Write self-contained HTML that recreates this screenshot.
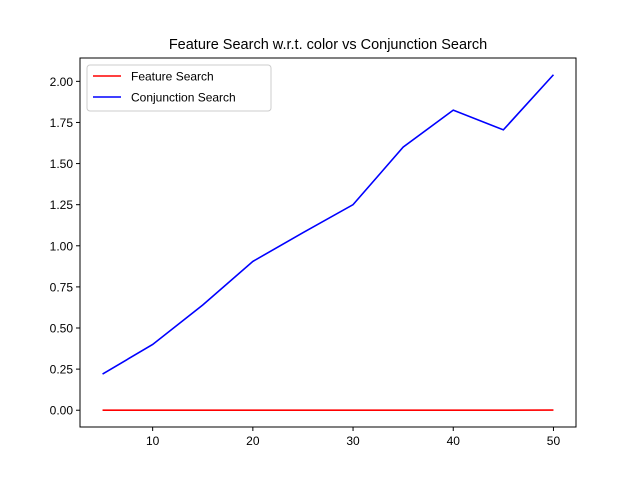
<!DOCTYPE html>
<html><head><meta charset="utf-8"><style>body{margin:0;background:#fff}svg{display:block;font-family:"Liberation Sans","DejaVu Sans",sans-serif}</style></head>
<body>
<svg id="chart" width="640" height="480" xmlns="http://www.w3.org/2000/svg">
<rect width="640" height="480" fill="#fff"/>
<text x="328" y="49" font-size="14.5" text-anchor="middle">Feature Search w.r.t. color vs Conjunction Search</text>
<g id="plot"></g>
</svg>
<script>
const xs=[5,10,15,20,25,30,35,40,45,50];
const feature=[0,0,0,0,0,0,0,0,0,0.001];
const conjunction=[0.22,0.40,0.64,0.905,1.08,1.25,1.60,1.825,1.705,2.04];
const xTicks=[10,20,30,40,50];
const yTicks=[0,0.25,0.5,0.75,1.0,1.25,1.5,1.75,2.0];
const L=80,R=576,T=58,B=427,x0=2.75,x1=52.25,y0=-0.102,y1=2.142;
const sx=v=>L+(v-x0)/(x1-x0)*(R-L), sy=v=>B-(v-y0)/(y1-y0)*(B-T);
const g=document.getElementById('plot'),NS='http://www.w3.org/2000/svg';
function mk(t,a,p){const e=document.createElementNS(NS,t);for(const k in a)e.setAttribute(k,a[k]);(p||g).appendChild(e);return e;}
xTicks.forEach(v=>{const x=sx(v);
const l=mk('line',{x1:x,x2:x,y1:B,y2:B+4,stroke:'#000'});


const t=mk('text',{x:x,y:B+18,'font-size':12,'text-anchor':'middle'});t.textContent=v;

});
yTicks.forEach(v=>{const y=sy(v);
const l=mk('line',{x1:L-4,x2:L,y1:y,y2:y,stroke:'#000'});


const t=mk('text',{x:L-7,y:y+4.5,'font-size':12,'text-anchor':'end'});t.textContent=v.toFixed(2);

});
function series(d,c,n){const p=mk('polyline',{points:xs.map((x,i)=>sx(x)+','+sy(d[i])).join(' '),fill:'none',stroke:c,'stroke-width':1.6});

}
series(feature,'#f00','feature-search-line');
series(conjunction,'#00f','conjunction-search-line');
const ax=mk('rect',{x:L,y:T,width:R-L,height:B-T,fill:'none',stroke:'#000','stroke-width':1});


const lg=mk('g',{});


mk('rect',{x:87,y:65,width:184,height:46,rx:3,fill:'#fff',stroke:'#ccc'},lg);
[['Feature Search','#f00',76],['Conjunction Search','#00f',97]].forEach(([n,c,y])=>{
mk('line',{x1:93,x2:121,y1:y,y2:y,stroke:c,'stroke-width':1.6},lg);
const t=mk('text',{x:131,y:y+4.5,'font-size':12},lg);t.textContent=n;

});
</script>
</body></html>
